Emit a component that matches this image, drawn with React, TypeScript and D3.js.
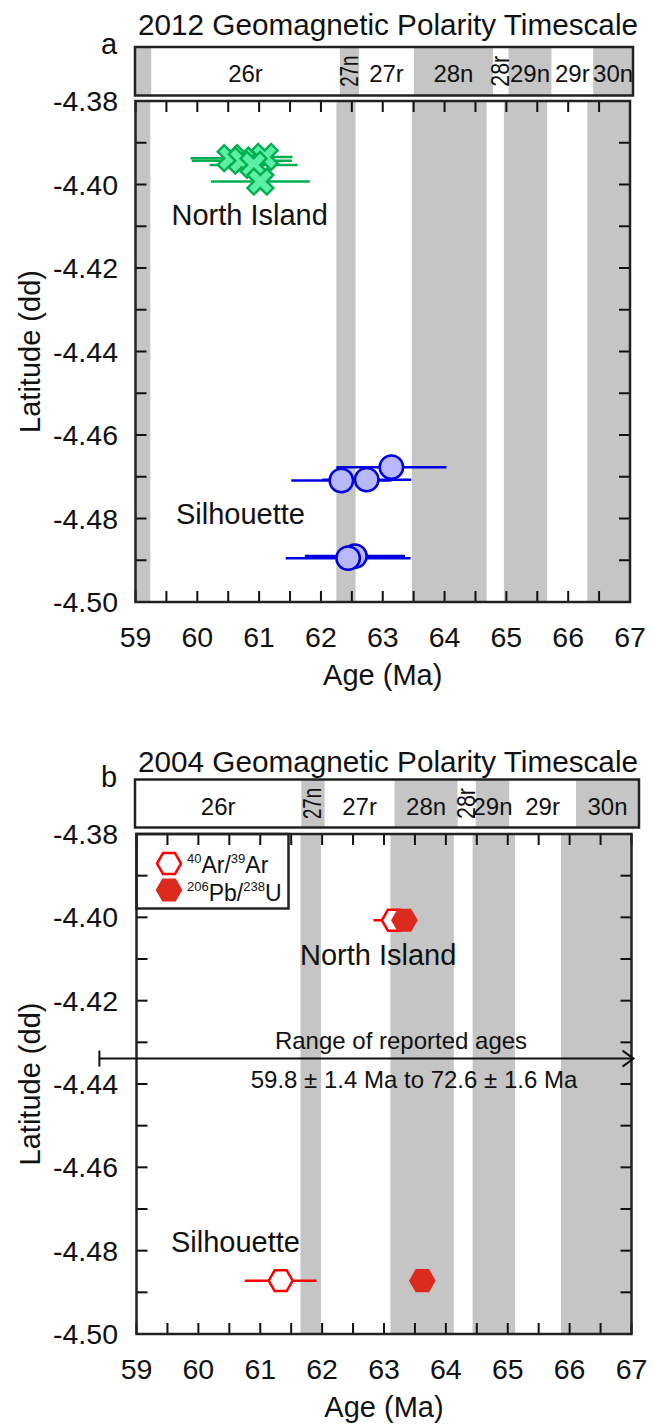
import React from "react";
import * as d3 from "d3";

const FONT = "'Liberation Sans', Arial, Helvetica, sans-serif";

// ---------- axes ----------
const ageDomain = [59, 67];
const latDomain = [-4.38, -4.5];
const ageTickLabels = [59, 60, 61, 62, 63, 64, 65, 66, 67];
const latTickLabels = [-4.38, -4.4, -4.42, -4.44, -4.46, -4.48, -4.5];

// ---------- 2012 GPTS ----------
const normal2012Start = [59.0, 62.25, 63.47, 64.96, 66.31];
const normal2012End = [59.24, 62.56, 64.68, 65.66, 67.0];
const band2012Names = ["", "26r", "27n", "27r", "28n", "28r", "29n", "29r", "30n"];
const band2012Bounds = [59.0, 59.26, 62.29, 62.6, 63.48, 64.75, 65.0, 65.69, 66.36, 67.0];
const band2012Normal = [true, false, true, false, true, false, true, false, true];
const band2012Rotated = [false, false, true, false, false, true, false, false, false];

// ---------- 2004 GPTS ----------
const normal2004Start = [61.65, 63.104, 64.432, 65.861];
const normal2004End = [61.983, 64.128, 65.118, 67.0];
const band2004Names = ["26r", "27n", "27r", "28n", "28r", "29n", "29r", "30n"];
const band2004Bounds = [59.0, 61.64, 62.01, 63.12, 64.12, 64.41, 64.94, 66.0, 67.0];
const band2004Normal = [false, true, false, true, false, true, false, true];
const band2004Rotated = [false, true, false, false, true, false, false, false];

// ---------- panel a data ----------
const northIsland2012Age = [60.54, 60.72, 61.09, 60.91, 61.02];
const northIsland2012Err = [0.65, 0.81, 0.45, 0.71, 0.8];
const northIsland2012Lat = [-4.3937, -4.3943, -4.3934, -4.3953, -4.3993];

const silhouette2012Age = [62.33, 62.74, 63.14, 62.55, 62.44];
const silhouette2012Err = [0.81, 0.72, 0.89, 0.81, 1.01];
const silhouette2012Lat = [-4.4709, -4.4707, -4.4677, -4.489, -4.4895];

// ---------- panel b data ----------
const arArAge = [63.16, 61.33];
const arArErr = [0.33, 0.58];
const arArLat = [-4.4007, -4.4872];
const pbUAge = [63.33, 63.62];
const pbUErr = [0.05, 0.05];
const pbULat = [-4.4007, -4.4872];

const rangeStart = 59.8 - 1.4;
const rangeEnd = 72.6 + 1.6;

const GRAY = "#c4c5c4";
const TICK = 11;

type Layout = {
  x0: number; x1: number; y0: number; y1: number;
  bx0: number; bx1: number; by0: number; by1: number;
  title: string; titleY: number; letter: string; letterY: number;
  bandLabelY: number;
  normalStart: number[]; normalEnd: number[];
  bandNames: string[]; bandBounds: number[]; bandNormal: boolean[]; bandRotated: boolean[];
};

function hexPath(cx: number, cy: number, r: number) {
  const pts = d3.range(6).map((i) => {
    const a = (Math.PI / 3) * i;
    return [cx + r * Math.cos(a), cy + r * Math.sin(a)];
  });
  return "M" + pts.map((p) => p.join(",")).join("L") + "Z";
}

function Frame({ L }: { L: Layout }) {
  const x = d3.scaleLinear().domain(ageDomain).range([L.x0, L.x1]);
  const y = d3.scaleLinear().domain(latDomain).range([L.y0, L.y1]);
  const bx = d3.scaleLinear().domain(ageDomain).range([L.bx0, L.bx1]);
  const minorX = d3.range(0, 17).map((i) => 59 + i * 0.5);
  const minorY = d3.range(0, 13).map((i) => -4.38 - i * 0.01);
  const bandMid = (L.by0 + L.by1) / 2;
  return (
    <g>
      <text x={138} y={L.titleY} fontSize={29.7} fill="#111">{L.title}</text>
      <text x={101} y={L.letterY} fontSize={29} fill="#111">{L.letter}</text>
      {L.bandNames.map((n, i) =>
        L.bandNormal[i] ? (
          <rect key={"bg" + i} x={bx(L.bandBounds[i])} y={L.by0} width={bx(L.bandBounds[i + 1]) - bx(L.bandBounds[i])} height={L.by1 - L.by0} fill={GRAY} />
        ) : null
      )}
      {L.bandNames.map((n, i) => {
        const cx = (bx(L.bandBounds[i]) + bx(L.bandBounds[i + 1])) / 2;
        if (!n) return null;
        if (L.bandRotated[i]) {
          return (
            <text key={"bl" + i} transform={`translate(${cx + 8.5},${bandMid}) rotate(-90)`} textAnchor="middle" fontSize={25} textLength={31} lengthAdjust="spacingAndGlyphs" fill="#111">{n}</text>
          );
        }
        return <text key={"bl" + i} x={cx} y={L.bandLabelY} textAnchor="middle" fontSize={24} fill="#111">{n}</text>;
      })}
      <rect x={L.bx0} y={L.by0} width={L.bx1 - L.bx0} height={L.by1 - L.by0} fill="none" stroke="#222" strokeWidth={2.5} />
      {L.normalStart.map((s, i) => (
        <rect key={"pg" + i} x={x(s)} y={L.y0} width={x(L.normalEnd[i]) - x(s)} height={L.y1 - L.y0} fill={GRAY} />
      ))}
      {minorX.map((v, i) => (
        <g key={"tx" + i} stroke="#111" strokeWidth={2}>
          <line x1={x(v)} x2={x(v)} y1={L.y1} y2={L.y1 - TICK} />
          <line x1={x(v)} x2={x(v)} y1={L.y0} y2={L.y0 + TICK} />
        </g>
      ))}
      {minorY.map((v, i) => (
        <g key={"ty" + i} stroke="#111" strokeWidth={2}>
          <line x1={L.x0} x2={L.x0 + TICK} y1={y(v)} y2={y(v)} />
          <line x1={L.x1} x2={L.x1 - TICK} y1={y(v)} y2={y(v)} />
        </g>
      ))}
      <rect x={L.x0} y={L.y0} width={L.x1 - L.x0} height={L.y1 - L.y0} fill="none" stroke="#222" strokeWidth={2.5} />
      {ageTickLabels.map((v) => (
        <text key={"xl" + v} x={x(v)} y={L.y1 + 45} textAnchor="middle" fontSize={28.5} fill="#111">{v}</text>
      ))}
      {latTickLabels.map((v) => (
        <text key={"yl" + v} x={118} y={y(v) + 10} textAnchor="end" fontSize={28.5} fill="#111">{v.toFixed(2)}</text>
      ))}
      <text x={(L.x0 + L.x1) / 2} y={L.y1 + 83} textAnchor="middle" fontSize={29} fill="#111">Age (Ma)</text>
      <text transform={`translate(40,${(L.y0 + L.y1) / 2}) rotate(-90)`} textAnchor="middle" fontSize={29} fill="#111">Latitude (dd)</text>
    </g>
  );
}

const layoutA: Layout = {
  x0: 135.5, x1: 630, y0: 101, y1: 602,
  bx0: 135, bx1: 633, by0: 47, by1: 95.5,
  title: "2012 Geomagnetic Polarity Timescale", titleY: 35, letter: "a", letterY: 54,
  bandLabelY: 81.5,
  normalStart: normal2012Start, normalEnd: normal2012End,
  bandNames: band2012Names, bandBounds: band2012Bounds, bandNormal: band2012Normal, bandRotated: band2012Rotated,
};

const layoutB: Layout = {
  x0: 136.5, x1: 631.5, y0: 834, y1: 1334,
  bx0: 135, bx1: 639, by0: 779.5, by1: 827.5,
  title: "2004 Geomagnetic Polarity Timescale", titleY: 772, letter: "b", letterY: 787,
  bandLabelY: 815,
  normalStart: normal2004Start, normalEnd: normal2004End,
  bandNames: band2004Names, bandBounds: band2004Bounds, bandNormal: band2004Normal, bandRotated: band2004Rotated,
};

function PanelA() {
  const L = layoutA;
  const x = d3.scaleLinear().domain(ageDomain).range([L.x0, L.x1]);
  const y = d3.scaleLinear().domain(latDomain).range([L.y0, L.y1]);
  const cross = d3.symbol().type(d3.symbolCross).size(420)() as string;
  const green = "#00b050";
  const blue = "#0000e0";
  return (
    <g>
      <Frame L={L} />
      {northIsland2012Age.map((a, i) => (
        <line key={"ne" + i} x1={x(a - northIsland2012Err[i])} x2={x(a + northIsland2012Err[i])} y1={y(northIsland2012Lat[i])} y2={y(northIsland2012Lat[i])} stroke={green} strokeWidth={2.5} />
      ))}
      {northIsland2012Age.map((a, i) => (
        <path key={"nm" + i} d={cross} transform={`translate(${x(a)},${y(northIsland2012Lat[i])}) rotate(45)`} fill="#5cf0a4" stroke={green} strokeWidth={2.4} />
      ))}
      {silhouette2012Age.map((a, i) => (
        <line key={"se" + i} x1={x(a - silhouette2012Err[i])} x2={x(a + silhouette2012Err[i])} y1={y(silhouette2012Lat[i])} y2={y(silhouette2012Lat[i])} stroke={blue} strokeWidth={2.5} />
      ))}
      {silhouette2012Age.map((a, i) => (
        <circle key={"sm" + i} cx={x(a)} cy={y(silhouette2012Lat[i])} r={11.7} fill="#b9b9f8" stroke={blue} strokeWidth={2.5} />
      ))}
      <text x={171.5} y={225} fontSize={29} fill="#111">North Island</text>
      <text x={176} y={523.5} fontSize={29} fill="#111">Silhouette</text>
    </g>
  );
}

function PanelB() {
  const L = layoutB;
  const x = d3.scaleLinear().domain(ageDomain).range([L.x0, L.x1]);
  const y = d3.scaleLinear().domain(latDomain).range([L.y0, L.y1]);
  const red = "#ff0000";
  const redFill = "#dc2a1f";
  const arrowY = y(-4.4339);
  const ax0 = x(rangeStart);
  const ax1 = Math.min(x(rangeEnd), L.x1 + 2);
  return (
    <g>
      <Frame L={L} />
      <rect x={L.x0} y={L.y0} width={288.5 - L.x0} height={908.5 - L.y0} fill="none" stroke="#222" strokeWidth={2.5} />
      <path d={hexPath(169, 863.5, 12)} fill="#fff" stroke={red} strokeWidth={2.5} />
      <path d={hexPath(169, 890, 12.5)} fill={redFill} stroke={redFill} strokeWidth={1.5} />
      <text x={187} y={873} fontSize={23} fill="#111">
        <tspan fontSize={13} dy={-10}>40</tspan>
        <tspan dy={10}>Ar/</tspan>
        <tspan fontSize={13} dy={-10}>39</tspan>
        <tspan dy={10}>Ar</tspan>
      </text>
      <text x={187} y={901} fontSize={23} fill="#111">
        <tspan fontSize={13} dy={-10}>206</tspan>
        <tspan dy={10}>Pb/</tspan>
        <tspan fontSize={13} dy={-10}>238</tspan>
        <tspan dy={10}>U</tspan>
      </text>
      <g stroke="#111" strokeWidth={2} fill="none">
        <line x1={ax0} x2={ax1} y1={arrowY} y2={arrowY} />
        <line x1={ax0} x2={ax0} y1={arrowY - 8} y2={arrowY + 8} />
        <path d={`M${ax1 - 11},${arrowY - 8}L${ax1},${arrowY}L${ax1 - 11},${arrowY + 8}`} />
      </g>
      <text x={401} y={1049} textAnchor="middle" fontSize={24} fill="#111">Range of reported ages</text>
      <text x={414} y={1088} textAnchor="middle" fontSize={24} fill="#111">59.8 ± 1.4 Ma to 72.6 ± 1.6 Ma</text>
      {arArAge.map((a, i) => (
        <line key={"ae" + i} x1={x(a - arArErr[i])} x2={x(a + arArErr[i])} y1={y(arArLat[i])} y2={y(arArLat[i])} stroke={red} strokeWidth={2.5} />
      ))}
      {arArAge.map((a, i) => (
        <path key={"am" + i} d={hexPath(x(a), y(arArLat[i]), 12)} fill="#fff" stroke={red} strokeWidth={2.5} />
      ))}
      {pbUAge.map((a, i) => (
        <line key={"pe" + i} x1={x(a - pbUErr[i])} x2={x(a + pbUErr[i])} y1={y(pbULat[i])} y2={y(pbULat[i])} stroke={redFill} strokeWidth={2.5} />
      ))}
      {pbUAge.map((a, i) => (
        <path key={"pm" + i} d={hexPath(x(a), y(pbULat[i]), 12.5)} fill={redFill} stroke={redFill} strokeWidth={1.5} />
      ))}
      <text x={300} y={965} fontSize={29} fill="#111">North Island</text>
      <text x={171} y={1252} fontSize={29} fill="#111">Silhouette</text>
    </g>
  );
}

export default function App() {
  return (
    <svg width={655} height={1426} style={{ position: "absolute", left: 0, top: 0, background: "#fff" }} fontFamily={FONT}>
      <rect x={0} y={0} width={655} height={1426} fill="#fff" />
      <PanelA />
      <PanelB />
    </svg>
  );
}
